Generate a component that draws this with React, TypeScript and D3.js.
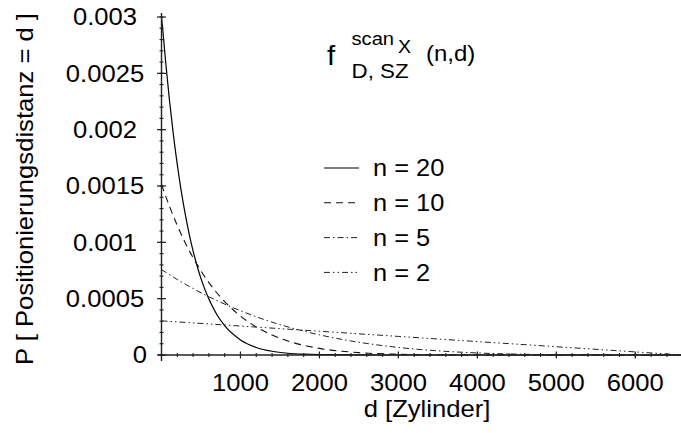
import React from "react";
import * as d3 from "d3";

const seriesLabels = ["n = 20", "n = 10", "n = 5", "n = 2"];

const d20 = [0, 25, 50, 100, 150, 200, 250, 300, 350, 400, 450, 500, 600, 700, 800, 1000, 1200, 1400, 1600, 1800, 2000, 2500, 3000, 4000, 5000, 6000, 6600];
const p20 = [0.003, 0.00282, 0.00262, 0.002267, 0.001958, 0.001689, 0.001455, 0.001252, 0.001076, 0.000924, 0.000792, 0.000678, 0.000496, 0.00036, 0.00026, 0.000134, 0.000067, 0.000033, 0.0000155, 0.000007, 0.000003, 0.0000003, 0, 0, 0, 0, 0];

const d10 = [0, 100, 200, 300, 400, 500, 600, 800, 1000, 1200, 1400, 1600, 1800, 2000, 2500, 3000, 3500, 4000, 5000, 6000, 6600];
const p10 = [0.001515, 0.001321, 0.001149, 0.000997, 0.000863, 0.000746, 0.000643, 0.000474, 0.000345, 0.000249, 0.000177, 0.0001245, 0.0000862, 0.0000588, 0.0000209, 0.0000065, 0.0000017, 0.0000004, 0, 0, 0];

const d5 = [0, 200, 400, 600, 800, 1000, 1250, 1500, 2000, 2500, 3000, 3500, 4000, 4500, 5000, 5500, 6000, 6600];
const p5 = [0.000758, 0.00067, 0.00059, 0.000517, 0.000452, 0.000393, 0.000327, 0.00027, 0.000179, 0.000113, 0.0000671, 0.0000369, 0.0000182, 0.0000078, 0.0000026, 0.0000006, 0, 0];

const d2 = [0, 1000, 2000, 3000, 4000, 5000, 6000, 6600];
const p2 = [0.000303, 0.000257, 0.000211, 0.000165, 0.000119, 0.0000735, 0.0000275, 0];

const xTickValues = [1000, 2000, 3000, 4000, 5000, 6000];
const yTickValues = [0, 0.0005, 0.001, 0.0015, 0.002, 0.0025, 0.003];
const yTickLabels = ["0", "0.0005", "0.001", "0.0015", "0.002", "0.0025", "0.003"];

const FONT = "'Liberation Sans', Arial, Helvetica, sans-serif";
const SX = 1.09;

function T({ x, y, size, anchor = "start", rotate = 0, children }: any) {
  return (
    <text
      transform={`translate(${x},${y}) rotate(${rotate}) scale(${SX},1)`}
      fontSize={size}
      fontFamily={FONT}
      textAnchor={anchor}
      fill="#000"
    >
      {children}
    </text>
  );
}

export default function App() {
  const W = 681;
  const H = 433;
  const x = d3.scaleLinear().domain([0, 6600]).range([161.5, 682.7]);
  const y = d3.scaleLinear().domain([0, 0.003]).range([355, 17]);

  const series = [
    { d: d20, p: p20, dash: "none", w: 1.2, color: "#000" },
    { d: d10, p: p10, dash: "7,5", w: 1.1, color: "#111" },
    { d: d5, p: p5, dash: "6,3,1.5,3", w: 1, color: "#222" },
    { d: d2, p: p2, dash: "6,3,1.5,3,1.5,3", w: 1, color: "#222" },
  ];

  const line = d3
    .line<[number, number]>()
    .x((v) => x(v[0]))
    .y((v) => y(v[1]))
    .curve(d3.curveMonotoneX);

  const yMinor = d3.range(0, 31).map((i) => i * 0.0001);
  const xMinor = d3.range(0, 34).map((i) => i * 200);
  const axisColor = "#222";

  return (
    <svg
      width={W}
      height={H}
      style={{ position: "absolute", left: 0, top: 0, background: "#fff" }}
    >
      <rect x={0} y={0} width={W} height={H} fill="#fff" />
      <defs>
        <clipPath id="plotclip">
          <rect x={160} y={0} width={W - 160} height={360} />
        </clipPath>
      </defs>

      {/* curves */}
      <g clipPath="url(#plotclip)">
        {series.map((s, i) => (
          <path
            key={i}
            d={line(s.d.map((dv, j) => [dv, s.p[j]] as [number, number])) || ""}
            fill="none"
            stroke={s.color}
            strokeWidth={s.w}
            strokeDasharray={s.dash}
          />
        ))}
      </g>

      {/* axes */}
      <line x1={x(0)} x2={x(0)} y1={13} y2={361} stroke={axisColor} strokeWidth={1.4} />
      <line x1={158} x2={W} y1={y(0)} y2={y(0)} stroke={axisColor} strokeWidth={1.4} />

      {yMinor.map((v, i) => (
        <line
          key={"ym" + i}
          x1={x(0) - 2}
          x2={x(0) + 2}
          y1={y(v)}
          y2={y(v)}
          stroke={axisColor}
          strokeWidth={1.1}
        />
      ))}
      {yTickValues.map((v, i) => (
        <line
          key={"yM" + i}
          x1={x(0) - 4.5}
          x2={x(0) + 4.5}
          y1={y(v)}
          y2={y(v)}
          stroke={axisColor}
          strokeWidth={1.2}
        />
      ))}
      {xMinor.map((v, i) => (
        <line
          key={"xm" + i}
          x1={x(v)}
          x2={x(v)}
          y1={y(0) - 2}
          y2={y(0) + 2}
          stroke={axisColor}
          strokeWidth={1.1}
        />
      ))}
      {xTickValues.map((v, i) => (
        <line
          key={"xM" + i}
          x1={x(v)}
          x2={x(v)}
          y1={y(0) - 3.5}
          y2={y(0) + 3.5}
          stroke={axisColor}
          strokeWidth={1.2}
        />
      ))}

      {/* y tick labels */}
      {yTickValues.map((v, i) => (
        <T
          key={"yl" + i}
          x={v === 0 ? 147 : 105}
          y={y(v) + 8.4}
          size={23.5}
          anchor={v === 0 ? "end" : "middle"}
        >
          {yTickLabels[i]}
        </T>
      ))}

      {/* x tick labels */}
      {xTickValues.map((v, i) => (
        <T key={"xl" + i} x={x(v)} y={391} size={23.5} anchor="middle">
          {String(v)}
        </T>
      ))}

      {/* axis titles */}
      <T x={427} y={417} size={23.5} anchor="middle">
        d [Zylinder]
      </T>
      <T x={33} y={189} size={23.5} anchor="middle" rotate={-90}>
        P [ Positionierungsdistanz = d ]
      </T>

      {/* formula title */}
      <T x={327} y={65} size={27}>f</T>
      <T x={351.5} y={45} size={18.5}>scan</T>
      <T x={398} y={53} size={18}>X</T>
      <T x={351.5} y={78} size={20.5}>D, SZ</T>
      <T x={426} y={61} size={22}>(n,d)</T>

      {/* legend */}
      {seriesLabels.map((lab, i) => {
        const ly = 168 + i * 34.8;
        const s = series[i];
        return (
          <g key={"lg" + i}>
            <line
              x1={324}
              x2={359}
              y1={ly}
              y2={ly}
              stroke={s.color}
              strokeWidth={s.w}
              strokeDasharray={s.dash}
            />
            <T x={373} y={ly + 8.3} size={23.3}>
              {lab}
            </T>
          </g>
        );
      })}
    </svg>
  );
}
